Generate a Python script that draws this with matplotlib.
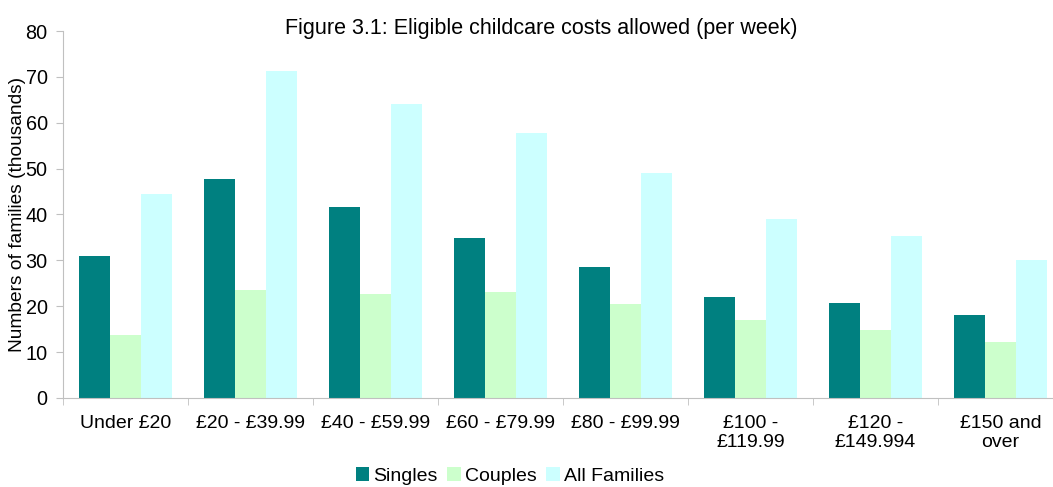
import matplotlib.pyplot as plt
import numpy as np

plt.rcParams['font.family'] = ['Liberation Sans', 'DejaVu Sans']

categories = ['Under £20', '£20 - £39.99', '£40 - £59.99', '£60 - £79.99',
              '£80 - £99.99', '£100 -\n£119.99', '£120 -\n£149.994', '£150 and\nover']
singles = [30.9, 47.7, 41.6, 34.9, 28.5, 22.0, 20.7, 18.1]
couples = [13.7, 23.5, 22.7, 23.1, 20.5, 17.0, 14.8, 12.2]
all_families = [44.4, 71.2, 64.0, 57.7, 49.0, 39.0, 35.3, 30.1]

fig = plt.figure(figsize=(10.53, 4.87), dpi=100)
ax = fig.add_axes([0.0598, 0.1828, 0.9497, 0.7535])

x = np.arange(len(categories))
w = 0.25
ax.bar(x - w, singles, w, color='#008080', label='Singles')
ax.bar(x, couples, w, color='#CCFFCC', label='Couples')
ax.bar(x + w, all_families, w, color='#CCFFFF', label='All Families')

ax.set_xlim(-0.5, len(categories) - 0.5)
ax.set_ylim(0, 80)
ax.set_yticks(np.arange(0, 81, 10))
ax.set_xticks(x)
ax.set_xticklabels(categories, fontsize=14, linespacing=1.15)
ax.set_xticks(np.arange(-0.5, len(categories)), minor=True)
ax.tick_params(axis='x', which='major', length=0, pad=12)
ax.tick_params(axis='x', which='minor', length=5, color='#c0c0c0')
ax.tick_params(axis='y', labelsize=14.3, length=5, color='#c0c0c0', pad=6)

for s in ['top', 'right']:
    ax.spines[s].set_visible(False)
for s in ['left', 'bottom']:
    ax.spines[s].set_color('#c0c0c0')

ax.set_ylabel('Numbers of families (thousands)', fontsize=13.8, labelpad=0)
fig.text(0.514, 0.942, 'Figure 3.1: Eligible childcare costs allowed (per week)',
         ha='center', va='center', fontsize=15.5)

fig.legend(loc='center', bbox_to_anchor=(0.484, 0.022), ncol=3, frameon=False,
           fontsize=14, handlelength=0.7, handleheight=0.7, handletextpad=0.2,
           columnspacing=0.5, borderpad=0.1)

fig.savefig('out.png', dpi=100)
